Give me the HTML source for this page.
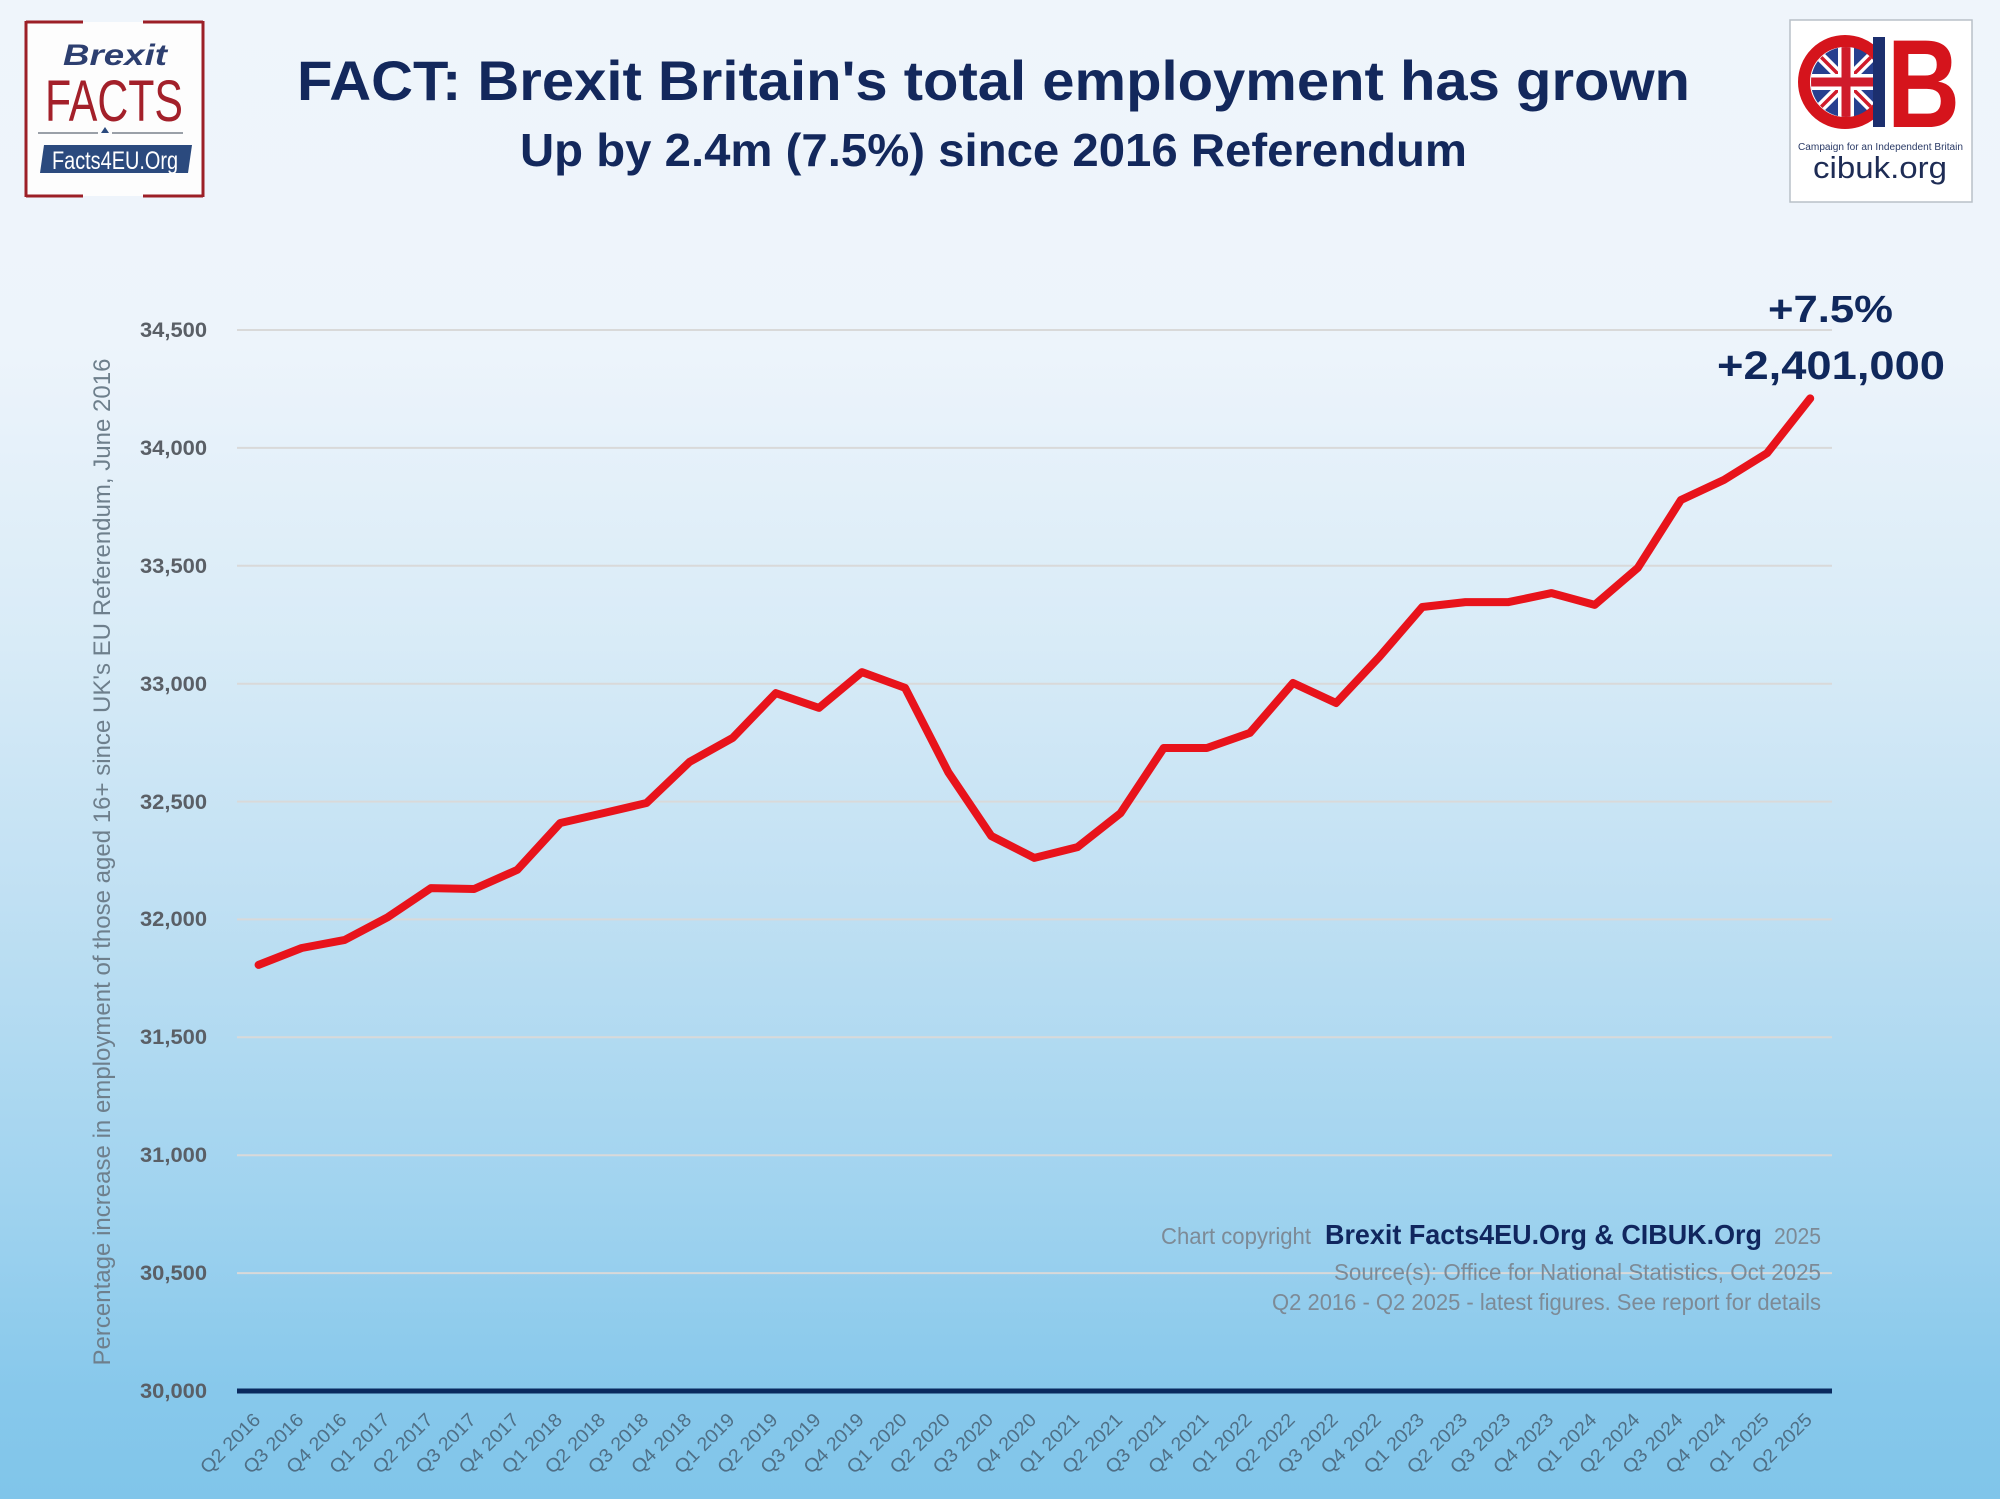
<!DOCTYPE html>
<html>
<head>
<meta charset="utf-8">
<style>
html,body{margin:0;padding:0;background:#eff5fb;}
svg{display:block;}
text{font-family:"Liberation Sans", Arial, sans-serif;}
</style>
</head>
<body>
<svg width="2000" height="1499" viewBox="0 0 2000 1499" xmlns="http://www.w3.org/2000/svg">
<defs>
<linearGradient id="bg" gradientUnits="userSpaceOnUse" x1="0" y1="0" x2="0" y2="1499">
<stop offset="0" stop-color="#eff5fb"/>
<stop offset="0.23" stop-color="#edf4fb"/>
<stop offset="0.43" stop-color="#d8ebf7"/>
<stop offset="0.60" stop-color="#c0e0f3"/>
<stop offset="0.80" stop-color="#a0d3ef"/>
<stop offset="0.93" stop-color="#87c8eb"/>
<stop offset="1" stop-color="#80c5ea"/>
</linearGradient>
<clipPath id="flagclip"><circle cx="1846" cy="82" r="35"/></clipPath>
<clipPath id="cclip"><rect x="1790" y="20" width="83" height="182"/></clipPath>
</defs>

<rect x="0" y="0" width="2000" height="1499" fill="url(#bg)"/>

<!-- Left logo -->
<rect x="26" y="22" width="177" height="174" fill="#fdfdfd"/>
<g stroke="#9c1f27" stroke-width="3" fill="none">
<line x1="26" y1="21" x2="26" y2="197"/>
<line x1="203" y1="21" x2="203" y2="197"/>
<line x1="26" y1="22" x2="83" y2="22"/>
<line x1="143" y1="22" x2="203" y2="22"/>
<line x1="26" y1="196" x2="83" y2="196"/>
<line x1="143" y1="196" x2="203" y2="196"/>
</g>
<text x="63" y="65" font-size="30" font-weight="bold" font-style="italic" fill="#2d3f70" textLength="104" lengthAdjust="spacingAndGlyphs">Brexit</text>
<text x="45" y="121" font-size="58" fill="#a3202a" textLength="138" lengthAdjust="spacingAndGlyphs">FACTS</text>
<line x1="38" y1="133" x2="98" y2="133" stroke="#9aa0a8" stroke-width="2"/>
<line x1="112" y1="133" x2="183" y2="133" stroke="#9aa0a8" stroke-width="2"/>
<polygon points="101,133 109,133 105,127" fill="#2b4a7e"/>
<polygon points="44,145 192,145 188,173 40,173" fill="#2b4a7e"/>
<text x="52" y="169" font-size="25" fill="#ffffff" textLength="126" lengthAdjust="spacingAndGlyphs">Facts4EU.Org</text>

<!-- Right logo -->
<rect x="1790" y="20" width="182" height="182" fill="#ffffff" stroke="#b9c0c8" stroke-width="1.5"/>
<circle cx="1845" cy="82" r="41" fill="none" stroke="#d5141c" stroke-width="12" clip-path="url(#cclip)"/>
<g clip-path="url(#flagclip)">
<rect x="1806" y="42" width="80" height="80" fill="#263f8f"/>
<line x1="1806" y1="42" x2="1886" y2="122" stroke="#ffffff" stroke-width="10"/>
<line x1="1886" y1="42" x2="1806" y2="122" stroke="#ffffff" stroke-width="10"/>
<line x1="1806" y1="42" x2="1886" y2="122" stroke="#cf1b2b" stroke-width="3.5"/>
<line x1="1886" y1="42" x2="1806" y2="122" stroke="#cf1b2b" stroke-width="3.5"/>
<line x1="1846" y1="42" x2="1846" y2="122" stroke="#ffffff" stroke-width="16"/>
<line x1="1806" y1="82" x2="1886" y2="82" stroke="#ffffff" stroke-width="16"/>
<line x1="1846" y1="42" x2="1846" y2="122" stroke="#cf1b2b" stroke-width="9"/>
<line x1="1806" y1="82" x2="1886" y2="82" stroke="#cf1b2b" stroke-width="9"/>
</g>
<rect x="1873" y="37" width="12" height="90" fill="#1c2f6e"/>
<text x="1887" y="127" font-size="125" font-weight="bold" fill="#d5141c" textLength="73" lengthAdjust="spacingAndGlyphs">B</text>
<text x="1798" y="150" font-size="10" fill="#2a3a66" textLength="165" lengthAdjust="spacingAndGlyphs">Campaign for an Independent Britain</text>
<text x="1813" y="178" font-size="31" fill="#1e2c55" textLength="134" lengthAdjust="spacingAndGlyphs">cibuk.org</text>

<!-- Titles -->
<text x="297" y="100" font-size="56" font-weight="bold" fill="#13285c" textLength="1393" lengthAdjust="spacingAndGlyphs">FACT: Brexit Britain's total employment has grown</text>
<text x="520" y="166" font-size="46" font-weight="bold" fill="#13285c" textLength="947" lengthAdjust="spacingAndGlyphs">Up by 2.4m (7.5%) since 2016 Referendum</text>

<!-- Gridlines -->
<g stroke="#d9d9d9" stroke-width="2">
<line x1="237" y1="330" x2="1832" y2="330"/>
<line x1="237" y1="447.9" x2="1832" y2="447.9"/>
<line x1="237" y1="565.8" x2="1832" y2="565.8"/>
<line x1="237" y1="683.7" x2="1832" y2="683.7"/>
<line x1="237" y1="801.6" x2="1832" y2="801.6"/>
<line x1="237" y1="919.4" x2="1832" y2="919.4"/>
<line x1="237" y1="1037.3" x2="1832" y2="1037.3"/>
<line x1="237" y1="1155.2" x2="1832" y2="1155.2"/>
<line x1="237" y1="1273.1" x2="1832" y2="1273.1"/>
</g>
<line x1="237" y1="1391" x2="1832" y2="1391" stroke="#0a2a5e" stroke-width="5"/>

<!-- Y tick labels -->
<g font-size="21" font-weight="bold" fill="#5a5f66" text-anchor="end">
<text x="207" y="337" textLength="67" lengthAdjust="spacingAndGlyphs">34,500</text>
<text x="207" y="455" textLength="67" lengthAdjust="spacingAndGlyphs">34,000</text>
<text x="207" y="573" textLength="67" lengthAdjust="spacingAndGlyphs">33,500</text>
<text x="207" y="691" textLength="67" lengthAdjust="spacingAndGlyphs">33,000</text>
<text x="207" y="809" textLength="67" lengthAdjust="spacingAndGlyphs">32,500</text>
<text x="207" y="926" textLength="67" lengthAdjust="spacingAndGlyphs">32,000</text>
<text x="207" y="1044" textLength="67" lengthAdjust="spacingAndGlyphs">31,500</text>
<text x="207" y="1162" textLength="67" lengthAdjust="spacingAndGlyphs">31,000</text>
<text x="207" y="1280" textLength="67" lengthAdjust="spacingAndGlyphs">30,500</text>
<text x="207" y="1398" textLength="67" lengthAdjust="spacingAndGlyphs">30,000</text>
</g>

<!-- Y axis title -->
<text transform="translate(110,862) rotate(-90)" text-anchor="middle" font-size="24" fill="#6e7f8c" textLength="1007" lengthAdjust="spacingAndGlyphs">Percentage increase in employment of those aged 16+  since UK's EU Referendum, June 2016</text>

<!-- X labels -->
<g font-size="19" fill="#4f6f86" text-anchor="end">
<text transform="translate(261.6,1421) rotate(-45)" textLength="76" lengthAdjust="spacingAndGlyphs">Q2 2016</text>
<text transform="translate(304.7,1421) rotate(-45)" textLength="76" lengthAdjust="spacingAndGlyphs">Q3 2016</text>
<text transform="translate(347.8,1421) rotate(-45)" textLength="76" lengthAdjust="spacingAndGlyphs">Q4 2016</text>
<text transform="translate(390.9,1421) rotate(-45)" textLength="76" lengthAdjust="spacingAndGlyphs">Q1 2017</text>
<text transform="translate(434.0,1421) rotate(-45)" textLength="76" lengthAdjust="spacingAndGlyphs">Q2 2017</text>
<text transform="translate(477.1,1421) rotate(-45)" textLength="76" lengthAdjust="spacingAndGlyphs">Q3 2017</text>
<text transform="translate(520.2,1421) rotate(-45)" textLength="76" lengthAdjust="spacingAndGlyphs">Q4 2017</text>
<text transform="translate(563.3,1421) rotate(-45)" textLength="76" lengthAdjust="spacingAndGlyphs">Q1 2018</text>
<text transform="translate(606.4,1421) rotate(-45)" textLength="76" lengthAdjust="spacingAndGlyphs">Q2 2018</text>
<text transform="translate(649.5,1421) rotate(-45)" textLength="76" lengthAdjust="spacingAndGlyphs">Q3 2018</text>
<text transform="translate(692.6,1421) rotate(-45)" textLength="76" lengthAdjust="spacingAndGlyphs">Q4 2018</text>
<text transform="translate(735.7,1421) rotate(-45)" textLength="76" lengthAdjust="spacingAndGlyphs">Q1 2019</text>
<text transform="translate(778.8,1421) rotate(-45)" textLength="76" lengthAdjust="spacingAndGlyphs">Q2 2019</text>
<text transform="translate(821.9,1421) rotate(-45)" textLength="76" lengthAdjust="spacingAndGlyphs">Q3 2019</text>
<text transform="translate(865.0,1421) rotate(-45)" textLength="76" lengthAdjust="spacingAndGlyphs">Q4 2019</text>
<text transform="translate(908.1,1421) rotate(-45)" textLength="76" lengthAdjust="spacingAndGlyphs">Q1 2020</text>
<text transform="translate(951.2,1421) rotate(-45)" textLength="76" lengthAdjust="spacingAndGlyphs">Q2 2020</text>
<text transform="translate(994.3,1421) rotate(-45)" textLength="76" lengthAdjust="spacingAndGlyphs">Q3 2020</text>
<text transform="translate(1037.4,1421) rotate(-45)" textLength="76" lengthAdjust="spacingAndGlyphs">Q4 2020</text>
<text transform="translate(1080.5,1421) rotate(-45)" textLength="76" lengthAdjust="spacingAndGlyphs">Q1 2021</text>
<text transform="translate(1123.6,1421) rotate(-45)" textLength="76" lengthAdjust="spacingAndGlyphs">Q2 2021</text>
<text transform="translate(1166.7,1421) rotate(-45)" textLength="76" lengthAdjust="spacingAndGlyphs">Q3 2021</text>
<text transform="translate(1209.8,1421) rotate(-45)" textLength="76" lengthAdjust="spacingAndGlyphs">Q4 2021</text>
<text transform="translate(1252.9,1421) rotate(-45)" textLength="76" lengthAdjust="spacingAndGlyphs">Q1 2022</text>
<text transform="translate(1296.0,1421) rotate(-45)" textLength="76" lengthAdjust="spacingAndGlyphs">Q2 2022</text>
<text transform="translate(1339.1,1421) rotate(-45)" textLength="76" lengthAdjust="spacingAndGlyphs">Q3 2022</text>
<text transform="translate(1382.2,1421) rotate(-45)" textLength="76" lengthAdjust="spacingAndGlyphs">Q4 2022</text>
<text transform="translate(1425.3,1421) rotate(-45)" textLength="76" lengthAdjust="spacingAndGlyphs">Q1 2023</text>
<text transform="translate(1468.4,1421) rotate(-45)" textLength="76" lengthAdjust="spacingAndGlyphs">Q2 2023</text>
<text transform="translate(1511.5,1421) rotate(-45)" textLength="76" lengthAdjust="spacingAndGlyphs">Q3 2023</text>
<text transform="translate(1554.6,1421) rotate(-45)" textLength="76" lengthAdjust="spacingAndGlyphs">Q4 2023</text>
<text transform="translate(1597.7,1421) rotate(-45)" textLength="76" lengthAdjust="spacingAndGlyphs">Q1 2024</text>
<text transform="translate(1640.8,1421) rotate(-45)" textLength="76" lengthAdjust="spacingAndGlyphs">Q2 2024</text>
<text transform="translate(1683.9,1421) rotate(-45)" textLength="76" lengthAdjust="spacingAndGlyphs">Q3 2024</text>
<text transform="translate(1727.0,1421) rotate(-45)" textLength="76" lengthAdjust="spacingAndGlyphs">Q4 2024</text>
<text transform="translate(1770.1,1421) rotate(-45)" textLength="76" lengthAdjust="spacingAndGlyphs">Q1 2025</text>
<text transform="translate(1813.2,1421) rotate(-45)" textLength="76" lengthAdjust="spacingAndGlyphs">Q2 2025</text>
</g>

<!-- Data line -->
<polyline fill="none" stroke="#e8131b" stroke-width="8" stroke-linejoin="round" stroke-linecap="round"
points="258.6,964.9 301.7,948.0 344.8,939.9 387.9,917.1 431.0,888.1 474.1,889.0 517.2,869.9 560.3,823.0 603.4,813.1 646.5,803.0 689.6,761.9 732.7,737.9 775.8,693.1 818.9,707.9 862.0,672.1 905.1,687.9 948.2,772.1 991.3,836.0 1034.4,857.9 1077.5,847.1 1120.6,813.1 1163.7,748.0 1206.8,748.0 1249.9,732.9 1293.0,683.0 1336.1,703.0 1379.2,657.0 1422.3,607.0 1465.4,602.1 1508.5,602.1 1551.6,593.1 1594.7,604.9 1637.8,567.9 1680.9,500.0 1724.0,479.9 1767.1,453.1 1810.2,398.4"/>

<!-- Annotation -->
<text x="1768" y="322" font-size="38" font-weight="bold" fill="#10285c" textLength="125" lengthAdjust="spacingAndGlyphs">+7.5%</text>
<text x="1717" y="379" font-size="40" font-weight="bold" fill="#10285c" textLength="228" lengthAdjust="spacingAndGlyphs">+2,401,000</text>

<!-- Copyright -->
<text x="1161" y="1244" font-size="23" fill="#7d8a96" textLength="150" lengthAdjust="spacingAndGlyphs">Chart copyright</text>
<text x="1325" y="1244" font-size="28" font-weight="bold" fill="#10265e" textLength="437" lengthAdjust="spacingAndGlyphs">Brexit Facts4EU.Org &amp; CIBUK.Org</text>
<text x="1774" y="1244" font-size="23" fill="#7d8a96" textLength="47" lengthAdjust="spacingAndGlyphs">2025</text>
<text x="1334" y="1280" font-size="23" fill="#7d8a96" textLength="487" lengthAdjust="spacingAndGlyphs">Source(s): Office for National Statistics, Oct 2025</text>
<text x="1272" y="1310" font-size="23" fill="#7d8a96" textLength="549" lengthAdjust="spacingAndGlyphs">Q2 2016 - Q2 2025 - latest figures. See report for details</text>
</svg>
</body>
</html>
